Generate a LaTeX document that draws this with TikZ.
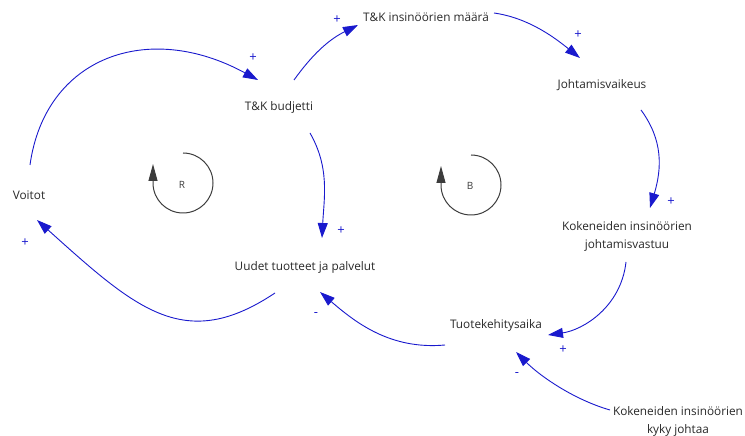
\documentclass[tikz,border=0pt]{standalone}
\usepackage{fontspec}
\setmainfont{Open Sans}
\usetikzlibrary{arrows.meta,calc}
\definecolor{linkblue}{RGB}{25,25,205}
\definecolor{txtgrey}{RGB}{40,40,40}
\definecolor{loopgrey}{RGB}{60,60,60}
\begin{document}
\begin{tikzpicture}[x=1pt,y=1pt,
  var/.style={text=txtgrey,font=\fontsize{11.8}{18}\selectfont,align=center,inner sep=0pt},
  link/.style={draw=linkblue,line width=0.9pt,-{Triangle[length=15pt,width=10pt]}},
  sign/.style={text=linkblue,font=\fontsize{13}{13}\selectfont,inner sep=0pt},
  loopline/.style={draw=loopgrey,line width=1pt,-{Triangle[length=17pt,width=9pt]}},
  looplabel/.style={text=loopgrey,font=\fontsize{10}{10}\selectfont,inner sep=0pt}]
\useasboundingbox (0,0) rectangle (745,436);

% variables
\node[var] (voitot)   at (29,241)  {Voitot};
\node[var] (budjetti) at (279,329) {T\&K budjetti};
\node[var] (maara)    at (426,419) {T\&K insinöörien määrä};
\node[var] (johtamis) at (602,351) {Johtamisvaikeus};
\node[var] (vastuu)   at (627,200) {Kokeneiden insinöörien\\johtamisvastuu};
\node[var] (uudet)    at (305,169) {Uudet tuotteet ja palvelut};
\node[var] (tuote)    at (496,111) {Tuotekehitysaika};
\node[var] (kyky)     at (678,15)  {Kokeneiden insinöörien\\kyky johtaa};

% loop markers
\node[looplabel] (R) at (182,251) {R};
\node[looplabel] (B) at (470,250) {B};
\draw[loopline] ($(R)+(1,32)$) arc[start angle=90,end angle=-180,radius=30] -- ++(0,19);
\draw[loopline] ($(B)+(1,31)$) arc[start angle=90,end angle=-180,radius=30] -- ++(0,19);

% links
\draw[link] ($(voitot)+(1,30)$) .. controls +(15,108) and +(-110,60) .. ($(budjetti)+(-21,27)$);
\draw[link] ($(budjetti)+(15,27)$) .. controls +(18,25) and +(-30,-15) .. ($(maara)+(-68,-8)$);
\draw[link] ($(maara)+(68,4)$) .. controls +(35,-5) and +(-25,20) .. ($(johtamis)+(-22,27)$);
\draw[link] ($(johtamis)+(39,-25)$) .. controls +(22,-30) and +(12,40) .. ($(vastuu)+(23,28)$);
\draw[link] ($(vastuu)+(-1,-26)$) .. controls +(-5,-45) and +(35,5) .. ($(tuote)+(52,-10)$);
\draw[link] ($(kyky)+(-68,11)$) .. controls +(-35,10) and +(25,-25) .. ($(tuote)+(20,-27)$);
\draw[link] ($(tuote)+(-51,-20)$) .. controls +(-55,-5) and +(35,-30) .. ($(uudet)+(15,-25)$);
\draw[link] ($(uudet)+(-30,-26)$) .. controls +(-90,-60) and +(100,-90) .. ($(voitot)+(8,-25)$);
\draw[link] ($(budjetti)+(31,-26)$) .. controls +(20,-35) and +(2,40) .. ($(uudet)+(17,29)$);

% polarity signs
\node[sign] (s1) at (253,378) {+};
\node[sign] (s2) at (337,416) {+};
\node[sign] (s3) at (578,401) {+};
\node[sign] (s4) at (671,234) {+};
\node[sign] (s5) at (563,86)  {+};
\node[sign] (s6) at (517,61)  {-};
\node[sign] (s7) at (316,121) {-};
\node[sign] (s8) at (25,193)  {+};
\node[sign] (s9) at (341,205) {+};
\end{tikzpicture}
\end{document}
